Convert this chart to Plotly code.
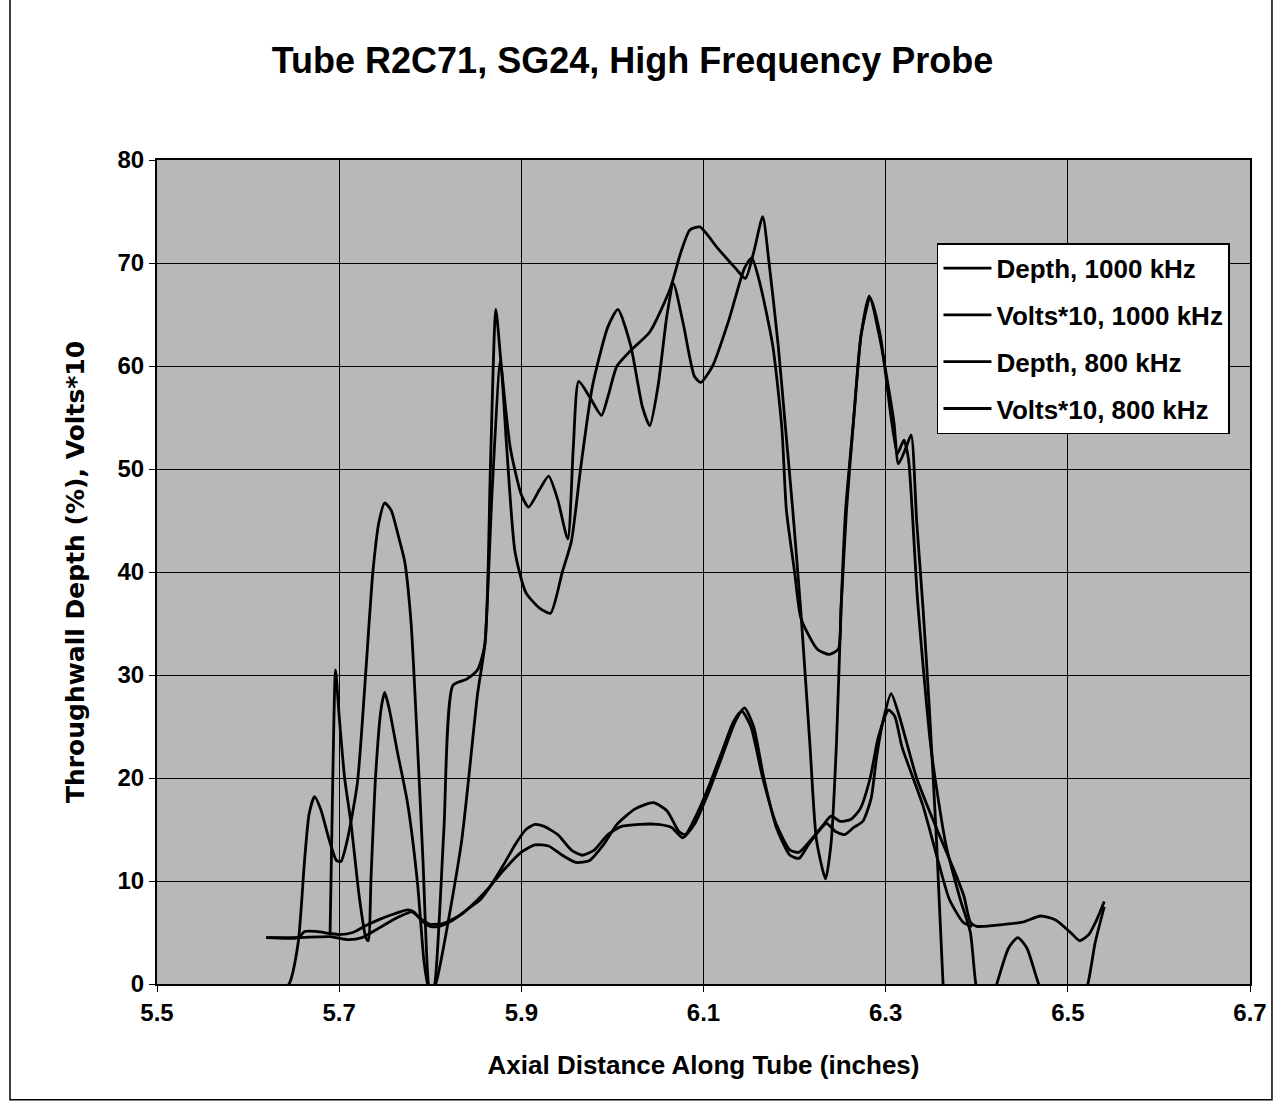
import plotly.graph_objects as go

FONT = "Liberation Sans, Arial, sans-serif"

# Depth, 1000 kHz
depth_1000_x = [5.62, 5.645, 5.655, 5.662, 5.667, 5.673, 5.68, 5.689, 5.697, 5.702, 5.709, 5.72,
                5.729, 5.737, 5.744, 5.75, 5.757, 5.765, 5.772, 5.779, 5.785, 5.792, 5.798, 5.801,
                5.805, 5.815, 5.825, 5.84, 5.852, 5.86, 5.866, 5.872, 5.878, 5.888, 5.9, 5.908,
                5.92, 5.93, 5.94, 5.951, 5.957, 5.963, 5.975, 5.988, 5.995, 6.005, 6.02, 6.041,
                6.063, 6.075, 6.085, 6.096, 6.115, 6.135, 6.146, 6.155, 6.165, 6.172, 6.182, 6.19,
                6.198, 6.207, 6.217, 6.224, 6.234, 6.24, 6.246, 6.251, 6.256, 6.265, 6.273, 6.282,
                6.294, 6.309, 6.314, 6.322, 6.328, 6.334, 6.341, 6.348, 6.356, 6.363, 6.37]
depth_1000_y = [-2, 0, 4, 12, 16.5, 18.2, 16.9, 14, 12, 11.9, 14, 19.5,
                30, 40, 45, 46.7, 46, 43.5, 41, 35, 25, 12, 0, -1,
                0, 15, 29, 29.6, 30.5, 33, 50, 65.5, 60, 52, 47.5, 46.3,
                48, 49.3, 47, 43.2, 52, 58.5, 57, 55.2, 57, 60, 61.5, 63.3,
                67.4, 71, 73.2, 73.5, 71.5, 69.5, 68.5, 71, 74.5, 70, 62, 54,
                46, 36, 23, 14, 10.2, 13.6, 23.4, 36.4, 46, 55, 63, 66.8,
                62.5, 54.6, 50.5, 52, 53.3, 45, 36.5, 26.7, 13.6, 0, -10]

# Volts*10, 1000 kHz
volts_1000_x = [5.62, 5.655, 5.662, 5.675, 5.69, 5.70, 5.715, 5.73, 5.745, 5.76, 5.775, 5.782,
                5.79, 5.80, 5.81, 5.825, 5.84, 5.855, 5.866, 5.88, 5.893, 5.905, 5.915, 5.925,
                5.94, 5.955, 5.967, 5.98, 5.995, 6.01, 6.03, 6.05, 6.065, 6.077, 6.09, 6.105,
                6.12, 6.135, 6.145, 6.155, 6.166, 6.18, 6.195, 6.205, 6.215, 6.228, 6.235, 6.245,
                6.255, 6.265, 6.275, 6.284, 6.29, 6.297, 6.306, 6.315, 6.334, 6.348, 6.363, 6.378,
                6.386, 6.393, 6.40, 6.42, 6.45, 6.47, 6.487, 6.503, 6.513, 6.523, 6.532, 6.54]
volts_1000_y = [4.5, 4.5, 5.1, 5.1, 4.9, 4.8, 5.0, 5.7, 6.3, 6.8, 7.2, 7.0,
                6.2, 5.6, 5.6, 6.2, 7.2, 8.2, 9.5, 11.5, 13.5, 15.0, 15.5, 15.3,
                14.5, 13.0, 12.5, 13.0, 14.5, 15.3, 15.5, 15.5, 15.2, 14.2, 15.5, 18.5,
                22.0, 25.5, 26.8, 25.0, 20.1, 15.2, 12.5, 12.2, 13.5, 15.0, 15.6, 14.8,
                14.5, 15.2, 15.8, 18.0, 22.0, 25.5, 28.2, 26.0, 20.0, 16.8, 13.6, 10.4,
                8.5, 6.0, 5.6, 5.7, 6.0, 6.6, 6.2, 5.0, 4.2, 4.8, 6.3, 8.0]

# Depth, 800 kHz
depth_800_x = [5.69, 5.693, 5.696, 5.70, 5.706, 5.713, 5.722, 5.729, 5.732, 5.735, 5.74, 5.746,
               5.75, 5.755, 5.764, 5.775, 5.786, 5.793, 5.797, 5.80, 5.806, 5.834, 5.852, 5.86,
               5.868, 5.877, 5.884, 5.893, 5.905, 5.92, 5.932, 5.945, 5.955, 5.965, 5.978, 5.995,
               6.006, 6.02, 6.033, 6.041, 6.05, 6.06, 6.067, 6.078, 6.09, 6.097, 6.11, 6.128,
               6.145, 6.153, 6.162, 6.176, 6.186, 6.191, 6.2, 6.207, 6.225, 6.238, 6.248, 6.251,
               6.257, 6.265, 6.273, 6.283, 6.294, 6.306, 6.313, 6.32, 6.325, 6.335, 6.35, 6.366,
               6.382, 6.393, 6.399, 6.41, 6.422, 6.435, 6.445, 6.455, 6.468, 6.49, 6.51, 6.522,
               6.53, 6.54]
depth_800_y = [4.8, 20, 30.5, 26, 20, 15.6, 8.5, 4.6, 4.2, 10.4, 20.2, 26.7,
               28.3, 26.7, 22.5, 17.6, 9.8, 2.3, 0, -1, 0, 13.6, 28.2, 33,
               48, 60.5, 52, 42, 38, 36.5, 36, 40, 43, 50, 58, 63.8,
               65.5, 62, 56, 54.2, 58, 65, 68, 64, 59, 58.4, 60, 64.5,
               69.5, 70.5, 68, 62, 54, 46, 40, 35.5, 32.5, 32, 32.5, 36.5,
               46, 55, 63, 66.6, 63, 55, 51.5, 52.8, 51, 37.3, 22.7, 13.6,
               8.2, 5, 0, -4, 0, 3.5, 4.5, 3.5, 0, -4, -3, 0,
               4, 7.5]

# Volts*10, 800 kHz
volts_800_x = [5.62, 5.655, 5.69, 5.71, 5.725, 5.745, 5.765, 5.78, 5.79, 5.80, 5.815, 5.835,
               5.85, 5.863, 5.88, 5.90, 5.915, 5.93, 5.945, 5.96, 5.975, 5.99, 6.005, 6.025,
               6.045, 6.06, 6.073, 6.08, 6.09, 6.105, 6.12, 6.133, 6.142, 6.152, 6.165, 6.18,
               6.195, 6.205, 6.218, 6.232, 6.24, 6.25, 6.262, 6.272, 6.283, 6.292, 6.303, 6.31,
               6.318, 6.341, 6.358, 6.37, 6.385, 6.395]
volts_800_y = [4.5, 4.5, 4.6, 4.3, 4.5, 5.5, 6.5, 7.0, 6.3, 5.8, 5.9, 6.8,
               8.0, 9.2, 11.0, 12.8, 13.5, 13.4, 12.5, 11.8, 12.0, 13.5, 15.5, 17.0,
               17.6, 16.8, 14.8, 14.5, 16.0, 19.0, 22.5, 25.5, 26.5, 25.0, 20.0, 15.5,
               13.0, 12.8, 14.0, 15.5, 16.3, 15.8, 16.0, 17.0, 20.0, 24.0, 26.6, 26.0,
               23.0, 17.3, 11.8, 8.2, 6.0, 5.6]

series = [
    ("Depth, 1000 kHz", depth_1000_x, depth_1000_y),
    ("Volts*10, 1000 kHz", volts_1000_x, volts_1000_y),
    ("Depth, 800 kHz", depth_800_x, depth_800_y),
    ("Volts*10, 800 kHz", volts_800_x, volts_800_y),
]

fig = go.Figure()
for name, xs, ys in series:
    fig.add_trace(go.Scatter(
        x=xs, y=ys, mode="lines", name=name, legendgroup=name,
        line=dict(color="black", width=2.8, shape="spline", smoothing=0.6),
    ))

# plot area: x 157..1250 px, y 160..984 px
fig.update_layout(
    width=1283, height=1108, autosize=False,
    paper_bgcolor="white", plot_bgcolor="#b8b8b8",
    margin=dict(l=157, r=33, t=160, b=124),
    title=dict(text="Tube R2C71, SG24, High Frequency Probe",
               x=0.493, xref="container", xanchor="center",
               y=1 - 60 / 1108, yref="container", yanchor="middle",
               font=dict(family=FONT, size=36, color="black", weight="bold")),
    legend=dict(x=0.7136, y=0.899, xanchor="left", yanchor="top",
                bgcolor="white", bordercolor="black", borderwidth=1.5,
                font=dict(family=FONT, size=26, color="black", weight="bold"),
                itemwidth=48, tracegroupgap=10),
    showlegend=True,
)

axis_common = dict(
    showgrid=True, gridcolor="black", gridwidth=1,
    showline=True, linecolor="black", linewidth=2, mirror=True,
    ticks="outside", ticklen=6, tickwidth=1, tickcolor="black",
    tickfont=dict(family=FONT, size=24, color="black", weight="bold"),
    zeroline=False,
)

fig.update_xaxes(range=[5.5, 6.7], tick0=5.5, dtick=0.2, tickformat=".1f",
                 title=dict(text="Axial Distance Along Tube (inches)", standoff=31,
                            font=dict(family=FONT, size=26, color="black", weight="bold")),
                 **axis_common)
fig.update_yaxes(range=[0, 80], dtick=10,
                 title=dict(text="Throughwall Depth (%), Volts*10", standoff=26,
                            font=dict(family="DejaVu Sans, sans-serif", size=25,
                                      color="black", weight="bold")),
                 **axis_common)

# outer frame of the chart (top edge is off the page)
fig.add_shape(type="rect", xref="paper", yref="paper",
              x0=-0.1345, x1=1.0201, y0=-0.1405, y1=1.21,
              line=dict(color="black", width=1.5), fillcolor="rgba(0,0,0,0)", layer="below")

fig.write_html("out.html", config={"displayModeBar": False},
               post_script="document.body.style.margin='0';")
